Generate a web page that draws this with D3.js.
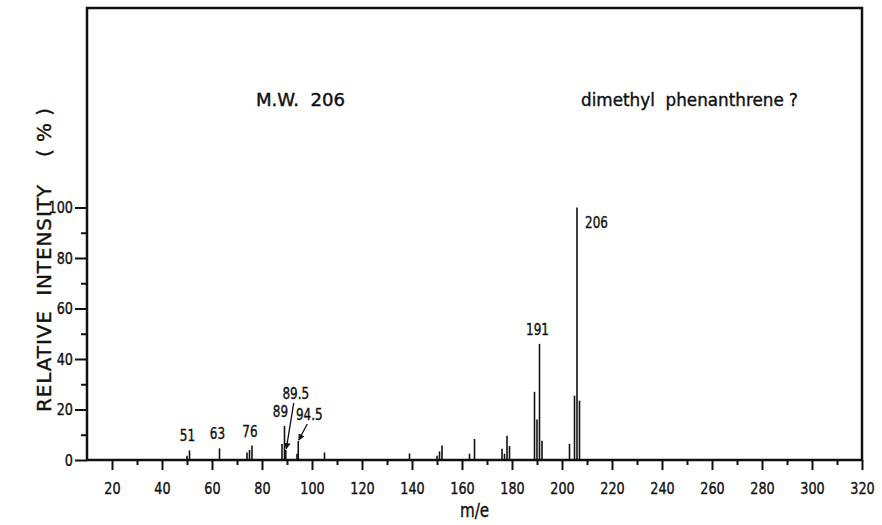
<!DOCTYPE html>
<html>
<head>
<meta charset="utf-8">
<script src="https://cdn.jsdelivr.net/npm/d3@7"></script>
<style>
  body { margin: 0; background: #fff; }
  svg { display: block; }
  text { font-family: "DejaVu Sans", sans-serif; fill: #111; stroke: #111; stroke-width: 0.4px; white-space: pre; }
</style>
</head>
<body>
<div id="chart"></div>
<script>
// peaks (m/e, relative intensity %)
const mzValues = [50, 51, 63, 74, 75, 76, 88, 89, 89.5, 94, 94.5, 105, 139, 150, 151, 152, 163, 165,
  176, 177, 178, 179, 189, 190, 191, 192, 203, 205, 206, 207];
const intensities = [1.7, 3.8, 4.6, 3, 4, 5.7, 6.3, 13.5, 4, 2.5, 7.5, 3, 2.6, 1.7, 3.4, 5.7, 2.5, 8.3,
  4.5, 2.5, 9.6, 5.5, 27, 16, 46, 7.6, 6.4, 25.5, 100, 23.5];

const xMajorTicks = [20, 40, 60, 80, 100, 120, 140, 160, 180, 200, 220, 240, 260, 280, 300, 320];
const xMinorTicks = [30, 50, 70, 90, 110, 130, 150, 170, 190, 210, 230, 250, 270, 290, 310];
const yMajorTicks = [0, 20, 40, 60, 80, 100];
const yMinorTicks = [10, 30, 50, 70, 90];

const peakLabels = ["51", "63", "76", "89", "191"];
const peakLabelMz = [51, 63, 76, 89, 191];
const arrowLabels = ["89.5", "94.5"];
const arrowLabelMz = [89.5, 94.5];

const width = 882, height = 525;
const margin = { top: 8, right: 20, bottom: 65, left: 87 };
const squeeze = 0.8; // the original lettering is a narrow DIN-like face

const svg = d3.select("#chart").append("svg")
  .attr("width", width)
  .attr("height", height);

const x = d3.scaleLinear().domain([10, 320]).range([margin.left, width - margin.right]);
const y = d3.scaleLinear().domain([0, 179]).range([height - margin.bottom, margin.top]);

const intensityOf = (m) => intensities[mzValues.indexOf(m)];

function label(px, py, txt, size, anchor) {
  return svg.append("text")
    .attr("transform", `translate(${px},${py}) scale(${squeeze},1)`)
    .attr("text-anchor", anchor || "middle")
    .style("font-size", size + "px")
    .text(txt);
}

////////////////////////////////////////////////////////////////////////////////////

// x axis, major + minor
svg.append("g")
  .attr("transform", `translate(0,${y(0)})`)
  .call(d3.axisBottom(x).tickValues(xMajorTicks).tickSize(10).tickPadding(13).tickFormat(d3.format("d")));
svg.append("g")
  .attr("transform", `translate(0,${y(0)})`)
  .call(d3.axisBottom(x).tickValues(xMinorTicks).tickSize(5).tickFormat(""));

// y axis, major + minor
const yAxisG = svg.append("g")
  .attr("transform", `translate(${x(10)},0)`)
  .call(d3.axisLeft(y).tickValues(yMajorTicks).tickSize(12).tickPadding(2).tickFormat(d3.format("d")));
svg.append("g")
  .attr("transform", `translate(${x(10)},0)`)
  .call(d3.axisLeft(y).tickValues(yMinorTicks).tickSize(6).tickFormat(""));

svg.selectAll(".domain").remove();
svg.selectAll(".tick line").attr("stroke", "#111").attr("stroke-width", 2);
svg.selectAll(".tick text")
  .style("font-size", "16px")
  .attr("fill", "#111")
  .attr("transform", `scale(${squeeze},1)`);
yAxisG.selectAll(".tick text").attr("x", -14 / squeeze);

// frame
svg.append("rect")
  .attr("x", x(10))
  .attr("y", y(179))
  .attr("width", x(320) - x(10))
  .attr("height", y(0) - y(179))
  .attr("fill", "none")
  .attr("stroke", "#111")
  .attr("stroke-width", 2.5);

////////////////////////////////////////////////////////////////////////////////////

// spectrum lines
svg.append("g")
  .selectAll("line")
  .data(mzValues)
  .enter()
  .append("line")
  .attr("x1", (d) => x(d))
  .attr("x2", (d) => x(d))
  .attr("y1", y(0))
  .attr("y2", (d, i) => y(intensities[i]))
  .attr("stroke", "#111")
  .attr("stroke-width", 1.6);

// peak labels
peakLabels.forEach((t, i) => {
  const m = peakLabelMz[i];
  label(x(m) - (m === 89 ? 4 : 2), y(intensityOf(m)) - 9, t, 15);
});
label(x(206) + 8, y(100) + 21, "206", 15, "start");

// arrowed labels for half-mass peaks
const arrowOffsets = [[10, -51], [11, -21]];
svg.append("defs").append("marker")
  .attr("id", "arrowhead")
  .attr("viewBox", "0 0 10 10")
  .attr("refX", 9)
  .attr("refY", 5)
  .attr("markerWidth", 5)
  .attr("markerHeight", 5)
  .attr("orient", "auto")
  .append("path")
  .attr("d", "M0,0L10,5L0,10z")
  .attr("fill", "#111");

arrowLabels.forEach((t, i) => {
  const px = x(arrowLabelMz[i]);
  const py = y(intensityOf(arrowLabelMz[i]));
  const [dx, dy] = arrowOffsets[i];
  label(px + dx, py + dy, t, 15);
  svg.append("line")
    .attr("x1", px + dx - 2)
    .attr("y1", py + dy + 4)
    .attr("x2", px + 0.5)
    .attr("y2", py - 1)
    .attr("stroke", "#111")
    .attr("stroke-width", 1.3)
    .attr("marker-end", "url(#arrowhead)");
});

////////////////////////////////////////////////////////////////////////////////////

// titles
svg.append("text")
  .attr("x", 256)
  .attr("y", 106)
  .attr("textLength", 89)
  .attr("lengthAdjust", "spacingAndGlyphs")
  .style("font-size", "17px")
  .text("M.W.  206");

svg.append("text")
  .attr("x", 581)
  .attr("y", 106)
  .attr("textLength", 217)
  .attr("lengthAdjust", "spacingAndGlyphs")
  .style("font-size", "17px")
  .text("dimethyl  phenanthrene ?");

// axis titles
label((x(10) + x(320)) / 2, 517, "m/e", 19);

svg.append("text")
  .attr("transform", "translate(51,412) rotate(-90)")
  .attr("textLength", 227)
  .attr("lengthAdjust", "spacing")
  .style("font-size", "20px")
  .text("RELATIVE  INTENSITY");

svg.append("text")
  .attr("transform", "translate(51,157) rotate(-90)")
  .attr("textLength", 49)
  .attr("lengthAdjust", "spacing")
  .style("font-size", "20px")
  .text("( % )");
</script>
</body>
</html>
